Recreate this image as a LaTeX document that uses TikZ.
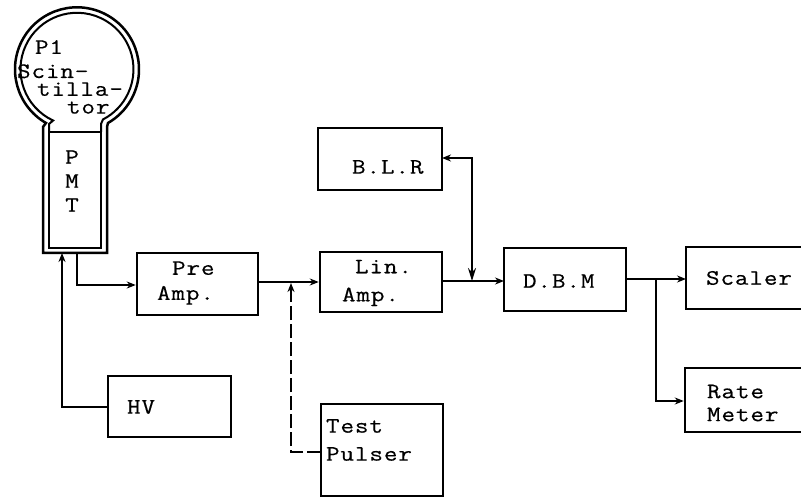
\documentclass[tikz,border=0pt]{standalone}
\usepackage{fontspec}
\setmainfont[LetterSpace=4,FakeBold=0.4,FakeStretch=1.2]{Latin Modern Mono}
\usetikzlibrary{arrows.meta}
\tikzset{
  box/.style={draw=black,line width=2.5pt,fill=none,inner sep=0pt,rectangle},
  txt/.style={inner sep=0pt,outer sep=0pt,anchor=west,align=left,font=\fontsize{22}{25}\selectfont,text=black},
  wire/.style={draw=black,line width=2.5pt,line join=miter},
  thin wire/.style={draw=black,line width=1.9pt},
  tip/.style={-{Stealth[length=9pt,width=7pt]}},
}
\newcommand{\boxat}[5]{\node[box,minimum width=#4pt-#2pt,minimum height=#5pt-#3pt] (#1) at ({(#2+#4)/2},{(#3+#5)/2}) {};}
\begin{document}
\begin{tikzpicture}[x=1pt,y=-1pt]
\useasboundingbox (0,0) rectangle (801,497);
% scintillator + PMT envelope
\draw[wire] (43,253) -- (43,127) -- (46,123) arc[start angle=120,end angle=420,radius=62] -- (107,127) -- (107,253) -- cycle;
\draw[wire,line width=2pt] (49,132) -- (49,124) -- (53.1,120.5) arc[start angle=115,end angle=422.6,radius=56.5] -- (101,124) -- (101,132);
\boxat{pmt}{49}{132}{101}{248}
\coordinate (pmtout) at (77,253);
\coordinate (pmtin) at (62,253);
% boxes
\boxat{pre}{137}{253}{258}{315}
\boxat{lin}{320}{252}{442}{312}
\boxat{test}{321}{404}{443}{496}
\boxat{dbm}{504}{248}{626}{311}
\boxat{scaler}{686}{247}{815}{309}
\boxat{rate}{685}{368}{815}{432}
\boxat{blr}{318}{128}{442}{190}
\boxat{hv}{108}{376}{231}{437}
% text
\node[txt] (t1) at (35,47) {P1};
\node[txt,font=\fontsize{22}{17.8}\selectfont] (t2) at (17,89) {Scin-\\\hspace*{20pt}tilla-\\\hspace*{50pt}tor};
\node[txt,align=center,anchor=center,font=\fontsize{22}{24}\selectfont] (t3) at (72,181) {P\\M\\T};
\node[txt,font=\fontsize{22}{25}\selectfont] (t4) at (157,283) {\hspace*{15pt}Pre\\Amp.};
\node[txt,font=\fontsize{22}{28}\selectfont] (t5) at (342,283) {\hspace*{13pt}Lin.\\Amp.};
\node[txt,font=\fontsize{22}{28}\selectfont] (t6) at (326,440) {Test\\Pulser};
\node[txt] (t7) at (523,281) {D.B.M};
\node[txt] (t8) at (706,278) {Scaler};
\node[txt,font=\fontsize{22}{23}\selectfont] (t9) at (707,403) {Rate\\Meter};
\node[txt] (t10) at (352,167) {B.L.R};
\node[txt] (t11) at (127,407) {HV};
% connectors
\coordinate (a1) at (77,285);
\draw[wire,tip] (pmtout) -- (a1) -- (a1 -| pre.west);
\coordinate (a2) at (62,407);
\draw[wire,tip] (a2 -| hv.west) -- (a2) -- (pmtin);
\draw[wire,tip] (lin.west -| pre.east) -- (lin.west);
\coordinate (a3) at (504,281);
\coordinate (j1) at (472,281);
\draw[wire,tip] (a3 -| lin.east) -- (a3);
\coordinate (b1) at (442,158);
\coordinate (b2) at (472,158);
\draw[thin wire,{Stealth[length=9pt,width=7pt]}-{Stealth[length=13pt,width=8pt]}] (b1) -- (b2) -- (j1);
\coordinate (a4) at (686,279);
\coordinate (j2) at (656,279);
\draw[wire,tip] (a4 -| dbm.east) -- (a4);
\coordinate (a5) at (656,401);
\draw[wire,tip] (j2) -- (a5) -- (a5 -| rate.west);
\coordinate (c1) at (321,452);
\coordinate (c2) at (291,452);
\coordinate (c3) at (291,283);
\draw[wire,dash pattern=on 14pt off 4pt,tip] (c1) -- (c2) -- (c3);
\end{tikzpicture}
\end{document}
